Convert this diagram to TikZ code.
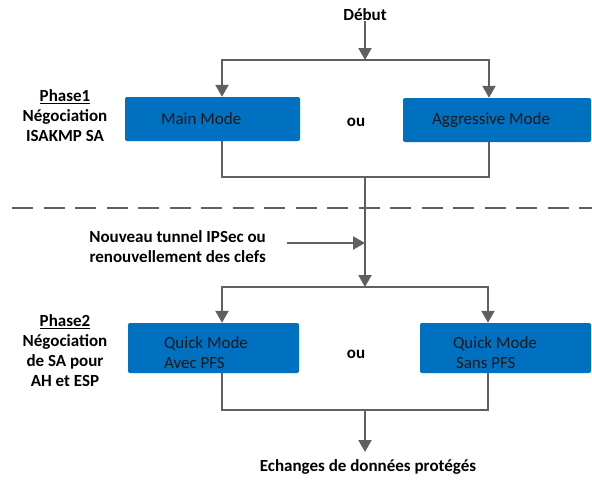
\documentclass[tikz,border=0pt]{standalone}
\usepackage{fontspec}
\setmainfont{Carlito}
\usetikzlibrary{arrows.meta}
\definecolor{boxblue}{HTML}{0070C0}
\definecolor{linegray}{HTML}{606060}
\newcommand{\bx}{\fontsize{17}{20}\selectfont}
\newcommand{\lowstrut}{\rule{0pt}{20.5pt}}

\begin{document}
\begin{tikzpicture}[x=1pt,y=-1pt,
   mode/.style={fill=boxblue, rounded corners=2pt, inner xsep=34pt, inner ysep=0pt,
                align=flush left, font=\bx, text=black!90},
   quick/.style={mode, minimum height=50pt},
   lbl/.style={font=\bx\bfseries, align=center, inner sep=0pt},
   conn/.style={draw=linegray, line width=2.2pt},
   tip/.style={-{Triangle[length=12pt,width=13pt]}},
   tips/.style={{Triangle[length=12pt,width=13pt]}-{Triangle[length=12pt,width=13pt]}}]
   \useasboundingbox (  0,  0) rectangle (592,480);
   \node[mode, text width=103pt, minimum height=44pt, inner xsep=36pt] (mainmode) at (212.5,119) {Main Mode};
   \node[mode, text width=130pt, minimum height=44pt, inner xsep=29pt] (aggrmode) at (497,120) {Aggressive Mode};
   \node[quick, text width=99pt, inner xsep=36pt] (qmavec) at (213.5,348) {\lowstrut Quick Mode\\Avec PFS};
   \node[quick, text width=105pt, inner xsep=33pt] (qmsans) at (505.5,348) {\lowstrut Quick Mode\\\hspace*{3pt}Sans PFS};
   \node[lbl] (debut)   at (365, 15) {Début};
   \node[lbl] (phase1)  at ( 65,116) {\underline{Phase1}\\Négociation\\ISAKMP SA};
   \node[lbl] (phase2)  at ( 65,351) {\underline{Phase2}\\Négociation\\de SA pour\\AH et ESP};
   \node[lbl] (ou1)     at (356,122) {ou};
   \node[lbl] (ou2)     at (356,354) {ou};
   \node[lbl, align=right, anchor=east] (nouveau) at (266,247) {Nouveau tunnel IPSec ou\\renouvellement des clefs};
   \node[lbl] (echanges) at (368,467) {Echanges de données protégés};
   \coordinate (split1) at (365, 60);
   \coordinate (l1)     at (222, 60);
   \coordinate (r1)     at (489, 60);
   \coordinate (join1)  at (365,177);
   \coordinate (lj1)    at (222,177);
   \coordinate (rj1)    at (489,177);
   \coordinate (side)   at (287,243);
   \coordinate (split2) at (365,287);
   \coordinate (l2)     at (222,287);
   \coordinate (r2)     at (488,287);
   \coordinate (join2)  at (365,410);
   \coordinate (lj2)    at (222,410);
   \coordinate (rj2)    at (488,410);
   \coordinate (fin)    at (365,452);
   \draw[conn, tip]  (debut.south) -- (split1);
   \draw[conn, tips] (l1 |- mainmode.north) -- (l1) -- (r1) -- (r1 |- aggrmode.north);
   \draw[conn]       (lj1 |- mainmode.south) -- (lj1) -- (rj1) -- (rj1 |- aggrmode.south);
   \draw[conn, tip]  (join1) -- (split2);
   \draw[conn, tip]  (side) -- (side -| join1);
   \draw[conn, tips] (l2 |- qmavec.north) -- (l2) -- (r2) -- (r2 |- qmsans.north);
   \draw[conn]       (lj2 |- qmavec.south) -- (lj2) -- (rj2) -- (rj2 |- qmsans.south);
   \draw[conn, tip]  (join2) -- (fin);
   \draw[draw=linegray, line width=2pt, dash pattern=on 21pt off 10.5pt] (12,208) -- (592,208);
\end{tikzpicture}
\end{document}
